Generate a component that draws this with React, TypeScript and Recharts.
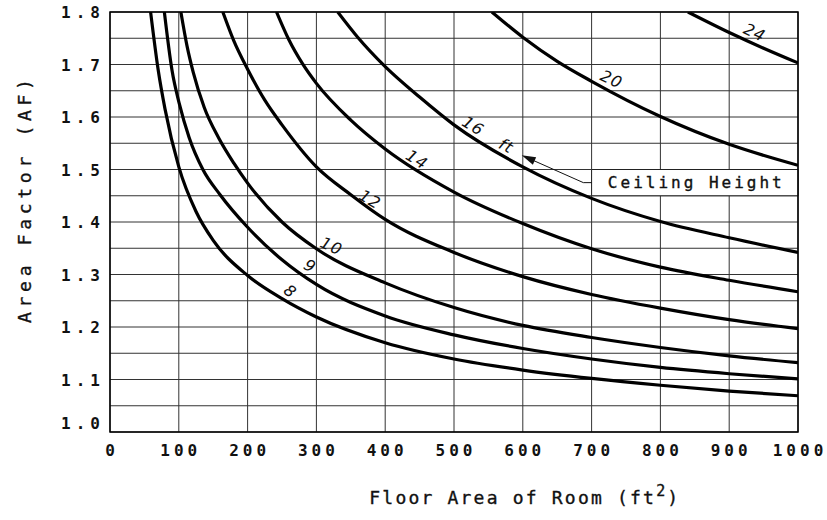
import React from "react";
import {
  LineChart,
  Line,
  XAxis,
  YAxis,
  CartesianGrid,
  ReferenceArea,
  ReferenceLine,
  ReferenceDot,
} from "recharts";

// floor area (ft^2) ticks and area factor ticks
const xTicks = [0, 100, 200, 300, 400, 500, 600, 700, 800, 900, 1000];
const yTicks = [
  1.0, 1.05, 1.1, 1.15, 1.2, 1.25, 1.3, 1.35, 1.4, 1.45, 1.5, 1.55, 1.6, 1.65, 1.7, 1.75, 1.8,
];

// one curve per ceiling height (ft)
const curve8 = [
  { area: 59, af: 1.8 }, { area: 70, af: 1.69 }, { area: 80, af: 1.615 }, { area: 100, af: 1.505 },
  { area: 125, af: 1.42 }, { area: 150, af: 1.365 }, { area: 200, af: 1.298 }, { area: 250, af: 1.254 },
  { area: 300, af: 1.219 }, { area: 400, af: 1.17 }, { area: 500, af: 1.139 }, { area: 600, af: 1.118 },
  { area: 700, af: 1.102 }, { area: 800, af: 1.089 }, { area: 900, af: 1.078 }, { area: 1000, af: 1.069 },
];
const curve9 = [
  { area: 79, af: 1.8 }, { area: 90, af: 1.69 }, { area: 101, af: 1.624 }, { area: 115, af: 1.561 },
  { area: 135, af: 1.5 }, { area: 160, af: 1.452 }, { area: 200, af: 1.39 }, { area: 250, af: 1.328 },
  { area: 300, af: 1.281 }, { area: 400, af: 1.221 }, { area: 500, af: 1.185 }, { area: 600, af: 1.159 },
  { area: 700, af: 1.139 }, { area: 800, af: 1.123 }, { area: 900, af: 1.111 }, { area: 1000, af: 1.101 },
];
const curve10 = [
  { area: 103, af: 1.8 }, { area: 112, af: 1.735 }, { area: 121, af: 1.685 }, { area: 137, af: 1.618 },
  { area: 158, af: 1.56 }, { area: 180, af: 1.512 }, { area: 200, af: 1.474 }, { area: 250, af: 1.4 },
  { area: 300, af: 1.349 }, { area: 400, af: 1.284 }, { area: 500, af: 1.237 }, { area: 600, af: 1.203 },
  { area: 700, af: 1.18 }, { area: 800, af: 1.161 }, { area: 900, af: 1.145 }, { area: 1000, af: 1.132 },
];
const curve12 = [
  { area: 164, af: 1.8 }, { area: 180, af: 1.745 }, { area: 200, af: 1.691 }, { area: 225, af: 1.632 },
  { area: 250, af: 1.585 }, { area: 300, af: 1.505 }, { area: 350, af: 1.452 }, { area: 400, af: 1.405 },
  { area: 500, af: 1.342 }, { area: 600, af: 1.296 }, { area: 700, af: 1.262 }, { area: 800, af: 1.236 },
  { area: 900, af: 1.214 }, { area: 1000, af: 1.197 },
];
const curve14 = [
  { area: 242, af: 1.8 }, { area: 260, af: 1.747 }, { area: 280, af: 1.701 }, { area: 300, af: 1.664 },
  { area: 350, af: 1.594 }, { area: 400, af: 1.539 }, { area: 500, af: 1.457 }, { area: 600, af: 1.397 },
  { area: 700, af: 1.349 }, { area: 800, af: 1.314 }, { area: 900, af: 1.289 }, { area: 1000, af: 1.267 },
];
const curve16 = [
  { area: 331, af: 1.8 }, { area: 360, af: 1.752 }, { area: 400, af: 1.696 }, { area: 450, af: 1.638 },
  { area: 500, af: 1.585 }, { area: 600, af: 1.505 }, { area: 700, af: 1.445 }, { area: 800, af: 1.401 },
  { area: 900, af: 1.37 }, { area: 1000, af: 1.342 },
];
const curve20 = [
  { area: 555, af: 1.8 }, { area: 600, af: 1.752 }, { area: 650, af: 1.706 }, { area: 700, af: 1.668 },
  { area: 800, af: 1.601 }, { area: 900, af: 1.548 }, { area: 1000, af: 1.508 },
];
const curve24 = [
  { area: 840, af: 1.8 }, { area: 900, af: 1.761 }, { area: 950, af: 1.731 }, { area: 1000, af: 1.703 },
];

const curves = [curve8, curve9, curve10, curve12, curve14, curve16, curve20, curve24];

const curveLabels = [
  { text: "8", area: 262, af: 1.268, angle: 38 },
  { text: "9", area: 291, af: 1.316, angle: 30 },
  { text: "10", area: 322, af: 1.354, angle: 24 },
  { text: "12", area: 378, af: 1.443, angle: 30 },
  { text: "14", area: 446, af: 1.519, angle: 32 },
  { text: "16", area: 528, af: 1.583, angle: 32 },
  { text: "ft", area: 576, af: 1.545, angle: 28 },
  { text: "20", area: 729, af: 1.672, angle: 25 },
  { text: "24", area: 937, af: 1.761, angle: 25 },
];

const MONO = '"DejaVu Sans Mono", "Liberation Mono", monospace';
const INK = "#111";

function XTick({ x, y, payload }: any) {
  return (
    <text x={x} y={y + 24} dx={2} textAnchor="middle" fontFamily={MONO} fontSize={16}
      fontWeight="bold" letterSpacing={4} fill={INK}>
      {payload.value}
    </text>
  );
}

function YTick({ x, y, payload }: any) {
  const v = payload.value;
  if (Math.round(v * 100) % 10 !== 0) return null;
  const shift = v === 1 ? -9 : 0;
  return (
    <text x={x - 10 + 5} y={y + 6 + shift} textAnchor="end" fontFamily={MONO} fontSize={16}
      fontWeight="bold" letterSpacing={5} fill={INK}>
      {v.toFixed(1)}
    </text>
  );
}

function CurveLabel({ cx, cy, text, angle }: any) {
  return (
    <text x={cx} y={cy} textAnchor="middle" dominantBaseline="central"
      transform={`rotate(${angle}, ${cx}, ${cy})`} fontFamily='"DejaVu Sans", sans-serif'
      fontStyle="italic" fontSize={16} letterSpacing={1} fill={INK}>
      {text}
    </text>
  );
}

function ArrowHead({ cx, cy }: any) {
  const a = (23.9 * Math.PI) / 180;
  const len = 14;
  const w = 4;
  const bx = cx + Math.cos(a) * len;
  const by = cy + Math.sin(a) * len;
  const px = -Math.sin(a) * w;
  const py = Math.cos(a) * w;
  return (
    <path d={`M${cx},${cy} L${bx + px},${by + py} L${bx - px},${by - py} Z`} fill={INK} />
  );
}

export default function App() {
  return (
    <div style={{ position: "absolute", left: 0, top: 0, background: "#fff" }}>
      <LineChart width={827} height={520} margin={{ top: 12, right: 29, bottom: 0, left: 0 }}>
        <CartesianGrid stroke="#333" strokeWidth={1} />
        <XAxis
          dataKey="area"
          type="number"
          domain={[0, 1000]}
          ticks={xTicks}
          allowDataOverflow
          axisLine={false}
          tickLine={false}
          tickSize={0}
          tickMargin={0}
          height={88}
          tick={<XTick />}
          label={{
            content: (props: any) => {
              const vb = props.viewBox;
              return (
                <text x={vb.x + vb.width * 0.603} y={vb.y + 72} textAnchor="middle"
                  fontFamily={MONO} fontSize={18} letterSpacing={2.2} fill={INK}
                  stroke={INK} strokeWidth={0.35}>
                  Floor Area of Room (ft
                  <tspan dy={-8} fontSize={15}>2</tspan>
                  <tspan dy={8}>)</tspan>
                </text>
              );
            },
          }}
        />
        <YAxis
          type="number"
          domain={[1, 1.8]}
          ticks={yTicks}
          allowDataOverflow
          axisLine={false}
          tickLine={false}
          tickSize={0}
          tickMargin={0}
          width={110}
          tick={<YTick />}
          label={{
            content: (props: any) => {
              const vb = props.viewBox;
              const cx = vb.x + 24;
              const cy = vb.y + vb.height / 2 - 21;
              return (
                <text x={cx} y={cy} dx={2.3} textAnchor="middle" dominantBaseline="central"
                  transform={`rotate(-90, ${cx}, ${cy})`} fontFamily={MONO} fontSize={18}
                  letterSpacing={4.7} fill={INK} stroke={INK} strokeWidth={0.35}>
                  Area Factor (AF)
                </text>
              );
            },
          }}
        />
        <ReferenceArea
          x1={700}
          x2={1000}
          y1={1.45}
          y2={1.5}
          fill="#fff"
          fillOpacity={1}
          stroke="#222"
          label={{
            content: (props: any) => {
              const vb = props.viewBox;
              return (
                <text x={vb.x + vb.width / 2 + 1.5} y={vb.y + vb.height / 2} textAnchor="middle"
                  dominantBaseline="central" fontFamily={MONO} fontSize={16} letterSpacing={3}
                  fill={INK} stroke={INK} strokeWidth={0.35}>
                  Ceiling Height
                </text>
              );
            },
          }}
        />
        {curves.map((data, i) => (
          <Line
            key={i}
            data={data}
            dataKey="af"
            type="monotone"
            stroke="#000"
            strokeWidth={3.2}
            dot={false}
            activeDot={false}
            isAnimationActive={false}
          />
        ))}
        <ReferenceLine segment={[{ x: 700, y: 1.475 }, { x: 688, y: 1.475 }]} stroke={INK} strokeWidth={1} />
        <ReferenceLine segment={[{ x: 688, y: 1.475 }, { x: 602, y: 1.525 }]} stroke={INK} strokeWidth={1} />
        <ReferenceDot x={598.4} y={1.527} r={0} shape={(p: any) => <ArrowHead {...p} />} />
        {curveLabels.map((l) => (
          <ReferenceDot
            key={l.text}
            x={l.area}
            y={l.af}
            r={0}
            shape={(p: any) => <CurveLabel {...p} text={l.text} angle={l.angle} />}
          />
        ))}
        <ReferenceArea x1={0} x2={1000} y1={1} y2={1.8} fill="none" stroke="#000" strokeWidth={1.5} />
      </LineChart>
    </div>
  );
}
